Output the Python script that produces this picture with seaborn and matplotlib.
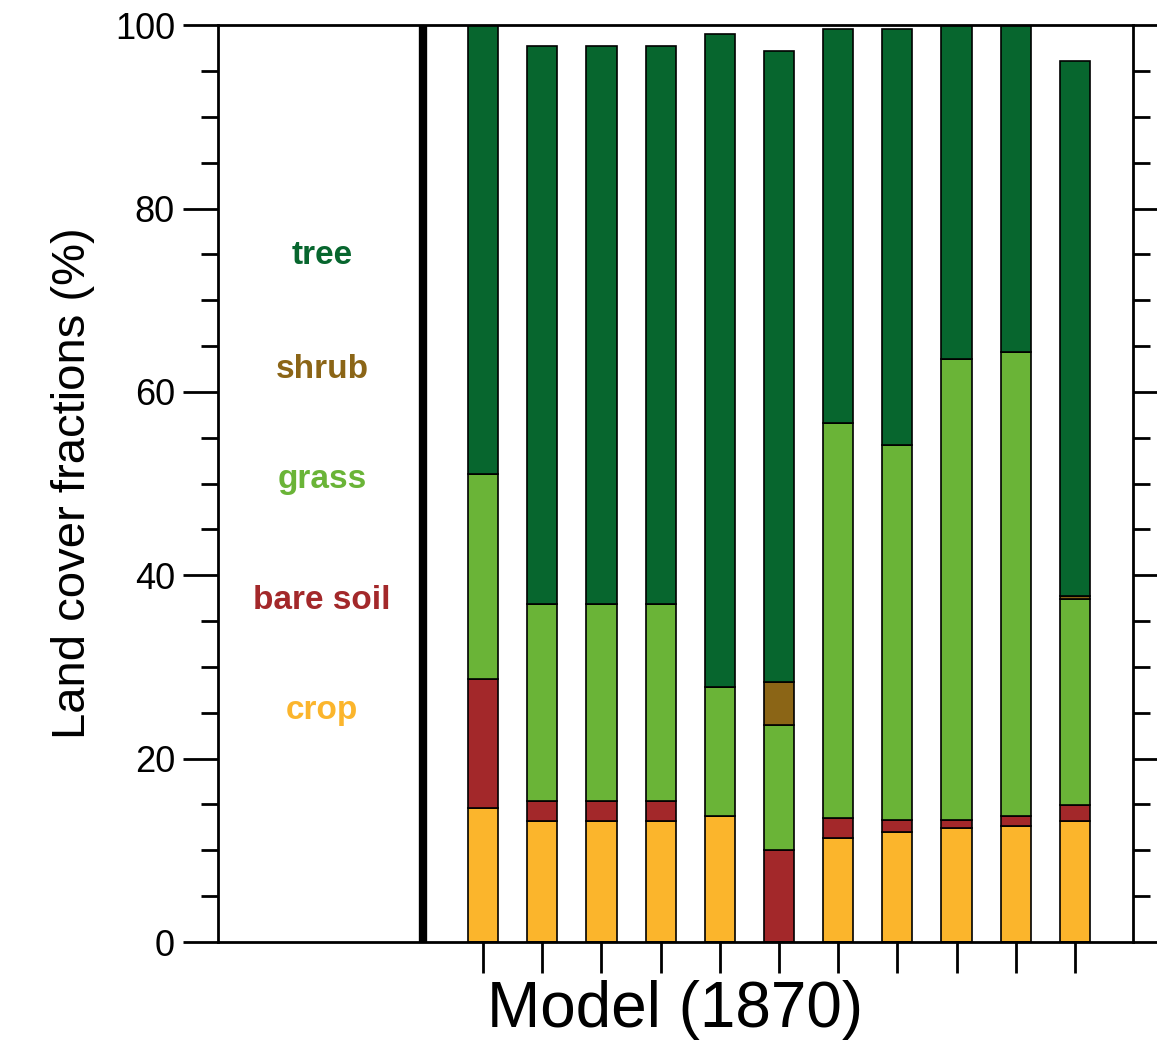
import numpy as np
import pandas as pd
import matplotlib
matplotlib.use("Agg")
import matplotlib.pyplot as plt
import seaborn as sns
from matplotlib.ticker import MultipleLocator

# layer thicknesses (%) of each stacked bar
crop = [14.6, 13.2, 13.2, 13.2, 13.7, 0.0, 11.3, 12.0, 12.4, 12.6, 13.2]
bare_soil = [14.1, 2.2, 2.2, 2.2, 0.0, 10.0, 2.2, 1.3, 0.9, 1.1, 1.7]
grass = [22.3, 21.5, 21.5, 21.5, 14.1, 13.7, 43.1, 40.9, 50.3, 50.6, 22.5]
shrub = [0.0, 0.0, 0.0, 0.0, 0.0, 4.7, 0.0, 0.0, 0.0, 0.0, 0.3]
tree = [49.0, 60.8, 60.8, 60.8, 71.2, 68.8, 43.0, 45.4, 36.4, 35.7, 58.4]

layers = ["crop", "bare soil", "grass", "shrub", "tree"]
colors = {"crop": "#fbb52c", "bare soil": "#a3282a", "grass": "#6ab437",
          "shrub": "#8b6516", "tree": "#07662e"}
label_y = {"crop": 25.3, "bare soil": 37.3, "grass": 50.4, "shrub": 62.4, "tree": 74.9}

df = pd.DataFrame({"crop": crop, "bare soil": bare_soil, "grass": grass,
                   "shrub": shrub, "tree": tree})
x = np.arange(len(df))

sns.set_style("ticks")
plt.rcParams["font.family"] = ["Liberation Sans", "DejaVu Sans"]
plt.rcParams.update({"text.color": "black", "axes.labelcolor": "black",
                     "xtick.color": "black", "ytick.color": "black",
                     "axes.edgecolor": "black"})

fig = plt.figure(figsize=(11.57, 10.49), dpi=100)
ax = fig.add_axes([0.1884, 0.102, 0.7908, 0.874])

bottom = np.zeros(len(df))
for name in layers:
    ax.bar(x, df[name], bottom=bottom, width=0.51, color=colors[name],
           edgecolor="black", linewidth=1.2)
    bottom += df[name].values

for name in layers:
    ax.text(-2.72, label_y[name], name, color=colors[name], fontsize=24,
            fontweight="bold", ha="center", va="center")

ax.axvline(-1.01, color="black", linewidth=6)

ax.set_xlim(-4.48, 10.98)
ax.set_ylim(0, 100)
ax.set_xticks(x)
ax.set_xticklabels([])
ax.yaxis.set_major_locator(MultipleLocator(20))
ax.yaxis.set_minor_locator(MultipleLocator(5))
ax.tick_params(axis="y", which="major", length=25, width=2, labelsize=26,
               right=True, left=True, pad=6)
ax.tick_params(axis="y", which="minor", length=12, width=2, right=True, left=True)
ax.tick_params(axis="x", length=22, width=2)
for s in ax.spines.values():
    s.set_linewidth(2)
    s.set_visible(True)

ax.set_ylabel("Land cover fractions (%)", fontsize=34, labelpad=14)
ax.set_xlabel("Model (1870)", fontsize=46, labelpad=2)

fig.savefig("out.png", dpi=100)
